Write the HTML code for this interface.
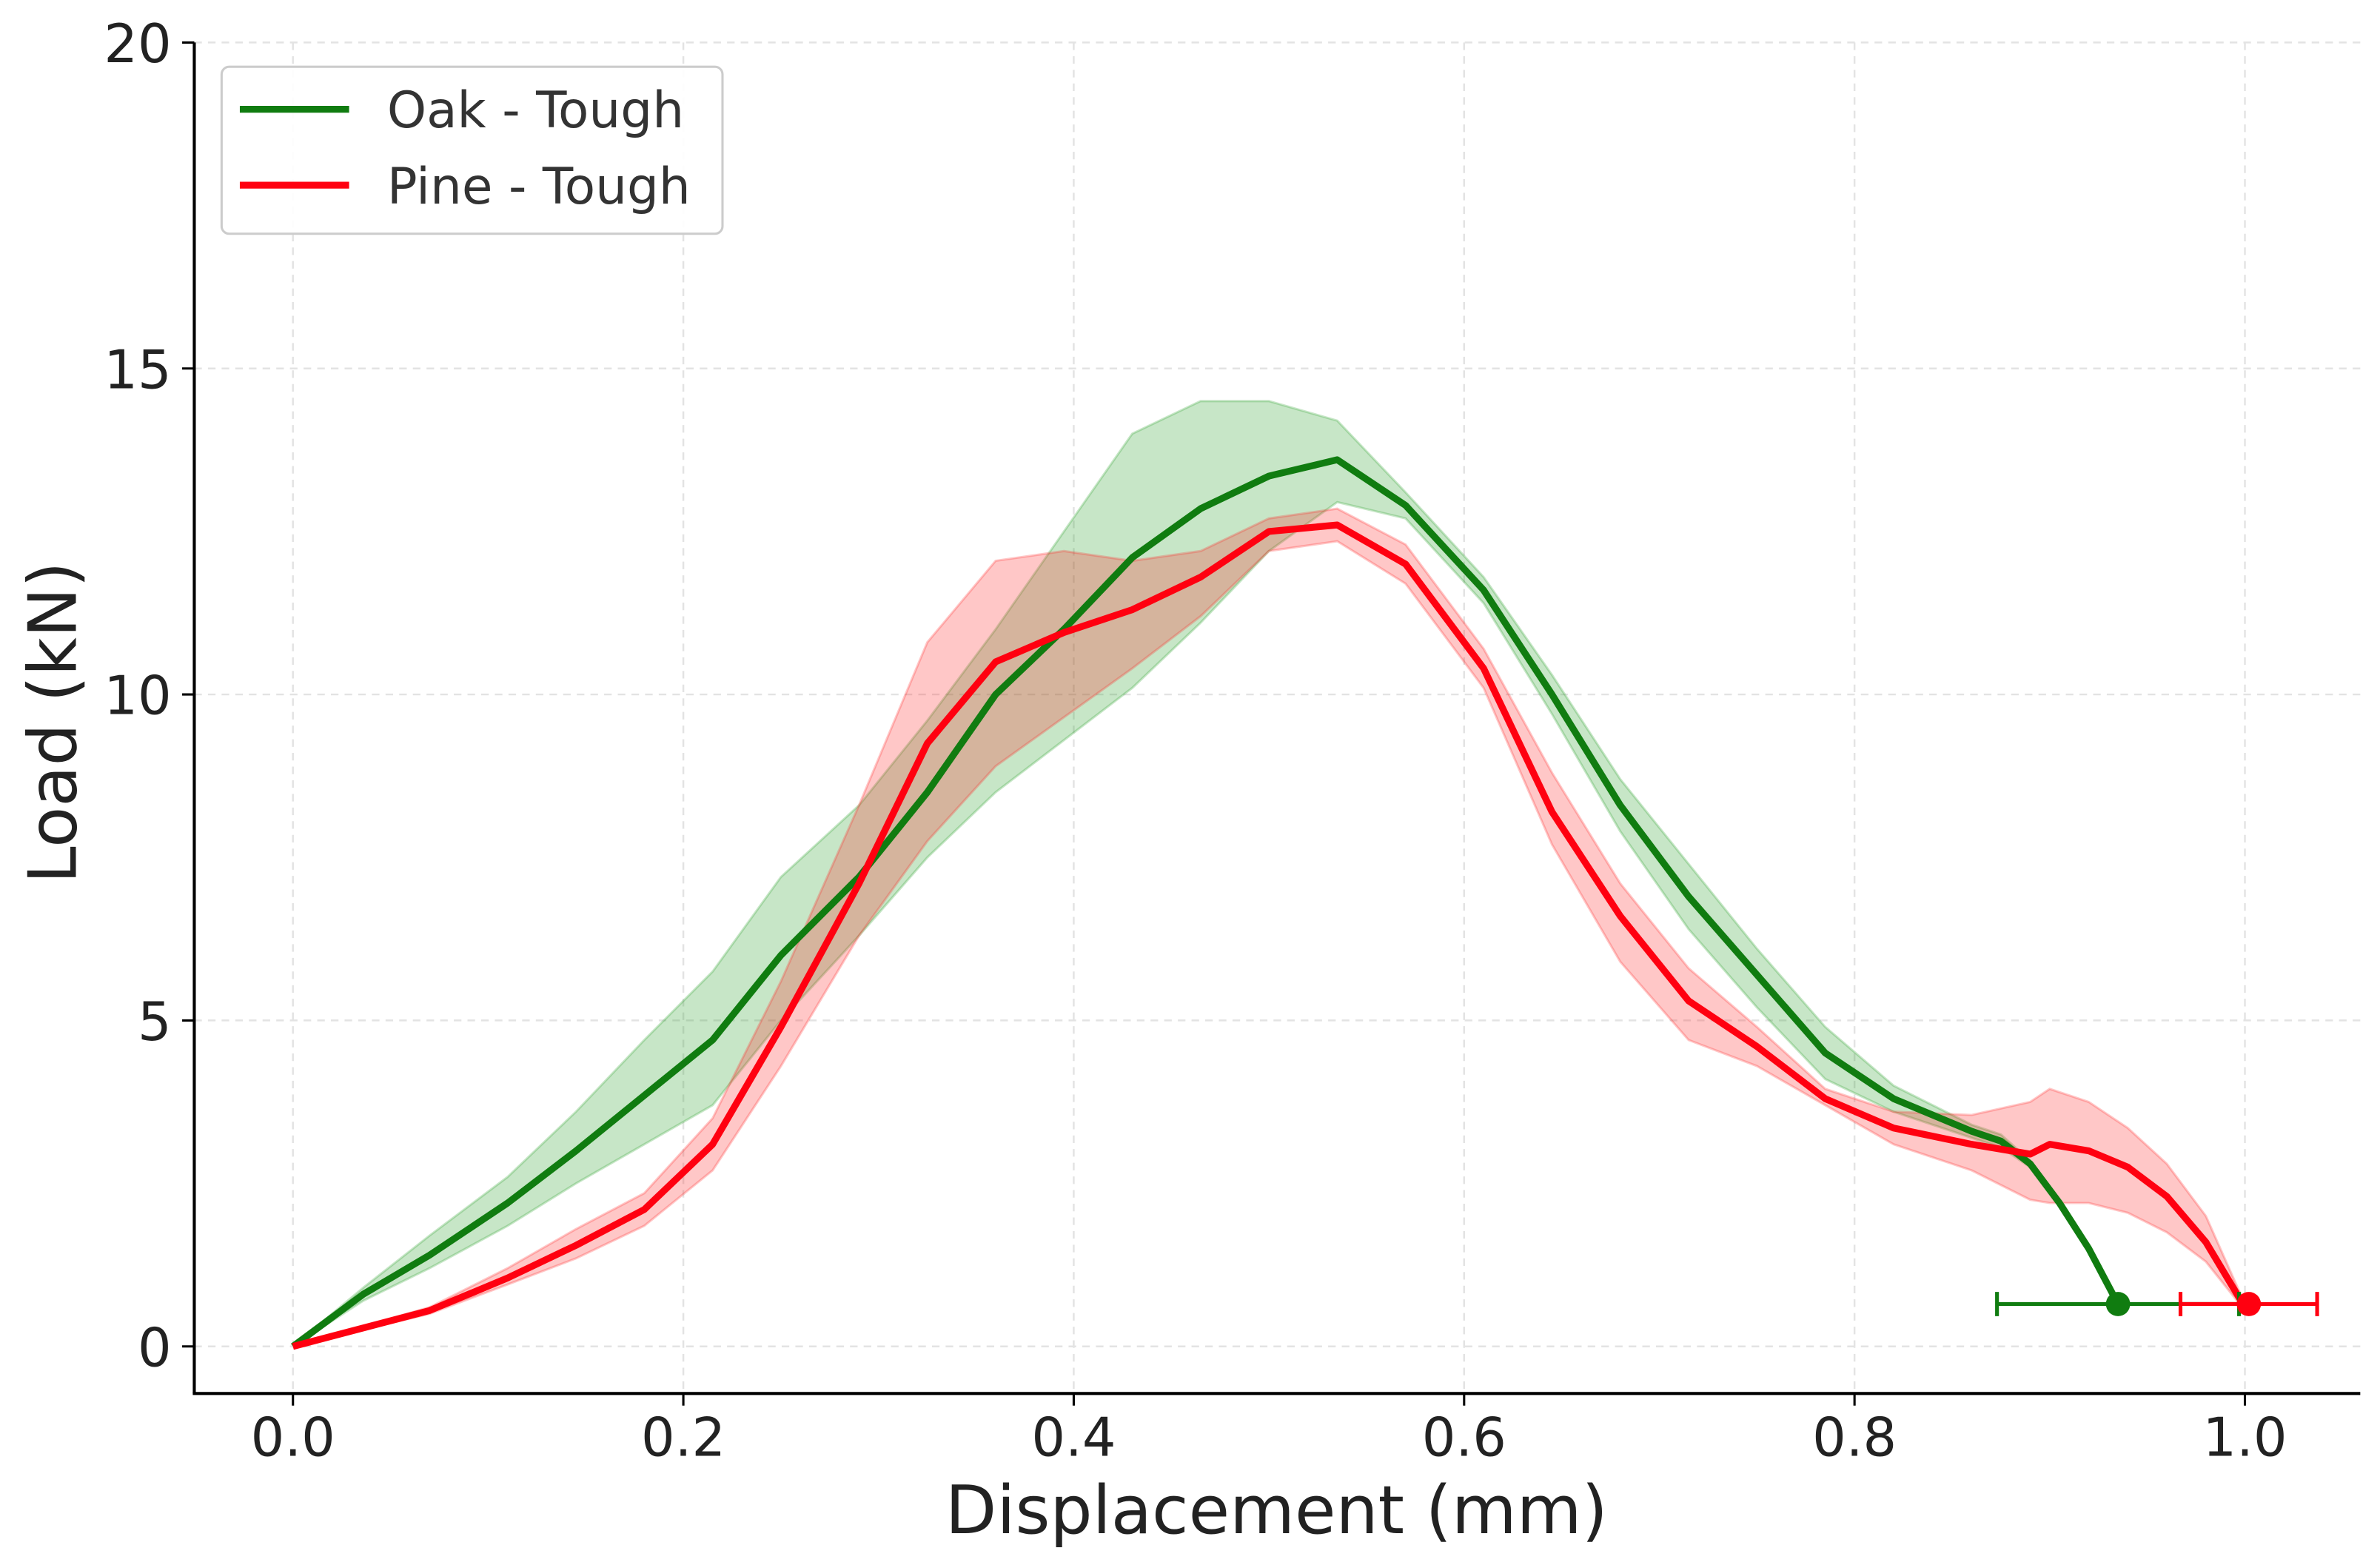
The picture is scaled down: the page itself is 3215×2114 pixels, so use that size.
<!DOCTYPE html>
<html><head><meta charset="utf-8"><style>
html,body{margin:0;padding:0;background:#fff;}
svg{display:block;font-family:"DejaVu Sans","Liberation Sans",sans-serif;}
</style></head><body>
<svg id="chart" width="3215" height="2114" viewBox="0 0 1568 1031" preserveAspectRatio="none" xmlns="http://www.w3.org/2000/svg">
<g id="grid"></g>
<g id="bands"></g>
<g id="lines"></g>
<g id="axes"></g>
<text x="841" y="1010" font-size="44" text-anchor="middle" fill="#222">Displacement (mm)</text>
<text transform="translate(50,476) rotate(-90)" font-size="44" text-anchor="middle" fill="#222">Load (kN)</text>
<g>
<rect x="146" y="44" width="330" height="110" rx="5" fill="#fff" fill-opacity="0.9" stroke="#ccc" stroke-width="1.5"/>
<line x1="158" y1="72" x2="230" y2="72" stroke="#107c10" stroke-width="4.5"/>
<text x="255" y="84" font-size="33" fill="#333">Oak - Tough</text>
<line x1="158" y1="122" x2="230" y2="122" stroke="#ff0010" stroke-width="4.5"/>
<text x="255" y="134" font-size="33" fill="#333">Pine - Tough</text>
</g>
</svg>
<script>
const xTicks=[0,0.2,0.4,0.6,0.8,1.0];
const xTickLabels=["0.0","0.2","0.4","0.6","0.8","1.0"];
const yTicks=[0,5,10,15,20];
const yTickLabels=["0","5","10","15","20"];
const oakX=[0,0.036,0.07,0.11,0.145,0.18,0.215,0.25,0.29,0.325,0.36,0.395,0.43,0.465,0.5,0.535,0.57,0.61,0.645,0.68,0.715,0.75,0.785,0.82,0.86,0.875,0.89,0.905,0.92,0.935];
const oakMean=[0,0.8,1.4,2.2,3.0,3.85,4.7,6.0,7.2,8.5,10.0,11.0,12.1,12.85,13.35,13.6,12.9,11.6,10.0,8.3,6.9,5.7,4.5,3.8,3.3,3.15,2.8,2.2,1.5,0.65];
const oakUpper=[0,0.9,1.7,2.6,3.6,4.7,5.75,7.2,8.3,9.6,11.0,12.5,14.0,14.5,14.5,14.2,13.1,11.8,10.3,8.7,7.4,6.1,4.9,4.0,3.4,3.25,2.85,2.22,1.52,0.65];
const oakLower=[0,0.7,1.2,1.85,2.5,3.1,3.7,5.0,6.3,7.5,8.5,9.3,10.1,11.1,12.2,12.95,12.7,11.4,9.7,7.9,6.4,5.2,4.1,3.6,3.2,3.05,2.75,2.18,1.48,0.65];
const pineX=[0,0.07,0.11,0.145,0.18,0.215,0.25,0.29,0.325,0.36,0.395,0.43,0.465,0.5,0.535,0.57,0.61,0.645,0.68,0.715,0.75,0.785,0.82,0.86,0.89,0.9,0.92,0.94,0.96,0.98,1.0];
const pineMean=[0,0.55,1.05,1.55,2.1,3.1,4.9,7.1,9.25,10.5,10.95,11.3,11.8,12.5,12.6,12.0,10.4,8.2,6.6,5.3,4.6,3.8,3.35,3.1,2.95,3.1,3.0,2.75,2.3,1.6,0.6];
const pineUpper=[0,0.6,1.2,1.8,2.35,3.5,5.6,8.3,10.8,12.05,12.2,12.05,12.2,12.7,12.85,12.3,10.7,8.8,7.1,5.8,4.9,3.95,3.6,3.55,3.75,3.95,3.75,3.35,2.8,2.0,0.65];
const pineLower=[0,0.5,0.95,1.35,1.85,2.7,4.3,6.3,7.75,8.9,9.65,10.4,11.2,12.2,12.35,11.7,10.1,7.7,5.9,4.7,4.3,3.7,3.1,2.7,2.25,2.2,2.2,2.05,1.75,1.3,0.55];
const endX=[0.935,1.002];
const endY=[0.65,0.65];
const endErr=[0.062,0.035];

const NS="http://www.w3.org/2000/svg";
const sx=v=>193+v*1286;
const sy=v=>887-v*42.95;
function mk(tag,attrs,parent){const e=document.createElementNS(NS,tag);for(const k in attrs)e.setAttribute(k,attrs[k]);parent.appendChild(e);return e;}
const grid=document.getElementById('grid'),axes=document.getElementById('axes'),bands=document.getElementById('bands'),lines=document.getElementById('lines');
xTicks.forEach((t,i)=>{
 const g=mk('line',{x1:sx(t),x2:sx(t),y1:28,y2:918,stroke:'#e3e3e3','stroke-width':1.2,'stroke-dasharray':'5,4'},grid);
 
 
 const tk=mk('line',{x1:sx(t),x2:sx(t),y1:918,y2:926,stroke:'#000','stroke-width':1.5},axes);
 
 
 const tx=mk('text',{x:sx(t),y:959,'font-size':35,'text-anchor':'middle',fill:'#222'},axes);
 tx.textContent=xTickLabels[i];
 
 
});
yTicks.forEach((t,i)=>{
 const g=mk('line',{x1:128,x2:1555,y1:sy(t),y2:sy(t),stroke:'#e3e3e3','stroke-width':1.2,'stroke-dasharray':'5,4'},grid);
 
 
 const tk=mk('line',{x1:120,x2:128,y1:sy(t),y2:sy(t),stroke:'#000','stroke-width':1.5},axes);
 
 
 const tx=mk('text',{x:113,y:sy(t)+13,'font-size':35,'text-anchor':'end',fill:'#222'},axes);
 tx.textContent=yTickLabels[i];
 
 
});
const ls=mk('line',{x1:128,x2:128,y1:28,y2:918,stroke:'#000','stroke-width':2},axes);


const bs=mk('line',{x1:127,x2:1555,y1:918,y2:918,stroke:'#000','stroke-width':2},axes);


function band(xs,up,lo,col,name){
 let d='M'+xs.map((x,i)=>sx(x)+','+sy(up[i])).join('L');
 for(let i=xs.length-1;i>=0;i--)d+='L'+sx(xs[i])+','+sy(lo[i]);
 const p=mk('path',{d:d+'Z',fill:col,'fill-opacity':0.25,stroke:col,'stroke-opacity':0.25,'stroke-width':1.5},bands);
 
 
}
function line(xs,ys,col,name){
 const p=mk('path',{d:'M'+xs.map((x,i)=>sx(x)+','+sy(ys[i])).join('L'),fill:'none',stroke:col,'stroke-width':4.5,'stroke-linejoin':'round'},lines);
 
 
}
band(oakX,oakUpper,oakLower,'#1f9a1f','oak-band');
band(pineX,pineUpper,pineLower,'#ff1f1f','pine-band');
line(oakX,oakMean,'#107c10','oak-line');
line(pineX,pineMean,'#ff0010','pine-line');
const cols=['#107c10','#ff0010'];const names=['oak','pine'];
endX.forEach((x,i)=>{
 const y=sy(endY[i]),x1=sx(x-endErr[i]),x2=sx(x+endErr[i]);
 const e=mk('path',{d:`M${x1},${y}H${x2}M${x1},${y-8}V${y+8}M${x2},${y-8}V${y+8}`,stroke:cols[i],'stroke-width':2.5,fill:'none'},lines);
 
 
 const c=mk('circle',{cx:sx(x),cy:y,r:8,fill:cols[i]},lines);
 
 
});
</script>
</body></html>
